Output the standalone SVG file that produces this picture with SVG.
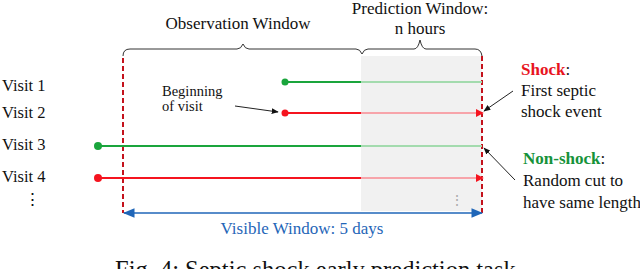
<svg xmlns="http://www.w3.org/2000/svg" width="640" height="269" viewBox="0 0 640 269">
<defs>
<style>
text{font-family:"Liberation Serif","Times New Roman",serif;fill:#111}
.lbl{font-size:17px}
.vis{font-size:16.5px}
.sm{font-size:14.5px}
.brace{fill:none;stroke:#333;stroke-width:1}
.cut{stroke:#c4121c;stroke-width:2;stroke-dasharray:5 3;fill:none}
.g{stroke:#1aa53c;stroke-width:2}
.gl{stroke:#a3dbae;stroke-width:2}
.r{stroke:#f5141f;stroke-width:2}
.rl{stroke:#f7a4aa;stroke-width:2}
.ptr{stroke:#222;stroke-width:1;fill:none}
</style>
<marker id="ab" viewBox="0 0 10 10" refX="9" refY="5" markerWidth="7" markerHeight="7" orient="auto"><path d="M0,1 L10,5 L0,9 Z" fill="#111"/></marker>
<marker id="ar" viewBox="0 0 10 10" refX="9" refY="5" markerWidth="4" markerHeight="4" orient="auto"><path d="M0,0 L10,5 L0,10 Z" fill="#f5141f"/></marker>
<marker id="abl" viewBox="0 0 10 10" refX="9" refY="5" markerWidth="9" markerHeight="9" orient="auto-start-reverse"><path d="M0,1 L10,5 L0,9 Z" fill="#1f66b8"/></marker>
</defs>
<rect x="361" y="56" width="121" height="155" fill="#f1f1f1"/>
<g id="observation-window">
<text class="lbl" x="238" y="29" text-anchor="middle">Observation Window</text>
<path class="brace" d="M123,56 Q123,49 130,49 L237,49 Q241,49 243,44 Q245,49 249,49 L356,49 Q360,49 362,54"/>
</g>
<g id="prediction-window">
<text class="lbl" x="420" y="14" text-anchor="middle">Prediction Window:</text>
<text class="lbl" x="420" y="34" text-anchor="middle">n hours</text>
<path class="brace" d="M362,54 Q364,49 368,49 L414,49 Q418,49 420,40 Q422,49 426,49 L475,49 Q481,49 482,56"/>
</g>
<g id="visit-labels">
<text class="vis" x="2" y="91">Visit 1</text>
<text class="vis" x="2" y="118">Visit 2</text>
<text class="vis" x="2" y="150">Visit 3</text>
<text class="vis" x="2" y="182">Visit 4</text>
<text class="vis" x="24" y="205">⋮</text>
</g>
<g id="cut-lines">
<line class="cut" x1="123" y1="58" x2="123" y2="213"/>
<line class="cut" x1="482" y1="56" x2="482" y2="213"/>
</g>
<g id="visit1">
<line class="g" x1="285" y1="82" x2="361" y2="82"/>
<line class="gl" x1="361" y1="82" x2="482" y2="82"/>
<circle cx="285" cy="82" r="3.5" fill="#1aa53c"/>
</g>
<g id="visit2">
<line class="r" x1="285" y1="113" x2="361" y2="113"/>
<line class="rl" x1="361" y1="113" x2="483" y2="113" marker-end="url(#ar)"/>
<circle cx="285" cy="113" r="3.5" fill="#f5141f"/>
</g>
<g id="visit3">
<line class="g" x1="98" y1="146" x2="361" y2="146" stroke-width="3"/>
<line class="gl" x1="361" y1="146" x2="482" y2="146" stroke-width="3"/>
<circle cx="98" cy="146" r="4" fill="#1aa53c"/>
</g>
<g id="visit4">
<line class="r" x1="98" y1="178" x2="361" y2="178" stroke-width="3"/>
<line class="rl" x1="361" y1="178" x2="483" y2="178" stroke-width="3" marker-end="url(#ar)"/>
<circle cx="98" cy="178" r="4" fill="#f5141f"/>
</g>
<text x="450" y="205" font-size="14" style="fill:#aaa">⋮</text>
<g id="beginning-label">
<text class="sm" x="162" y="96">Beginning</text>
<text class="sm" x="162" y="111">of visit</text>
</g>
<g id="shock-label">
<text class="lbl" x="521" y="75"><tspan font-weight="bold" style="fill:#e8141e">Shock</tspan>:</text>
<text class="lbl" x="521" y="96">First septic</text>
<text class="lbl" x="521" y="117">shock event</text>
</g>
<g id="nonshock-label">
<text class="lbl" x="523" y="164"><tspan font-weight="bold" style="fill:#16923a">Non-shock</tspan>:</text>
<text class="lbl" x="523" y="186">Random cut to</text>
<text class="lbl" x="523" y="208">have same length</text>
</g>
<g id="visible-window">
<text class="lbl" x="302" y="234" text-anchor="middle" style="fill:#1f66b8">Visible Window: 5 days</text>
</g>
<g id="connectors">
<line class="ptr" x1="235" y1="106" x2="278" y2="112" marker-end="url(#ab)"/>
<line class="ptr" x1="513" y1="91" x2="484" y2="111" marker-end="url(#ab)"/>
<line class="ptr" x1="515" y1="180" x2="484" y2="148" marker-end="url(#ab)"/>
<line x1="124" y1="213" x2="482" y2="213" stroke="#1f66b8" stroke-width="1.3" marker-start="url(#abl)" marker-end="url(#abl)"/>
</g>
<text x="115" y="278" font-size="24.5">Fig. 4: Septic shock early prediction task.</text>
</svg>
